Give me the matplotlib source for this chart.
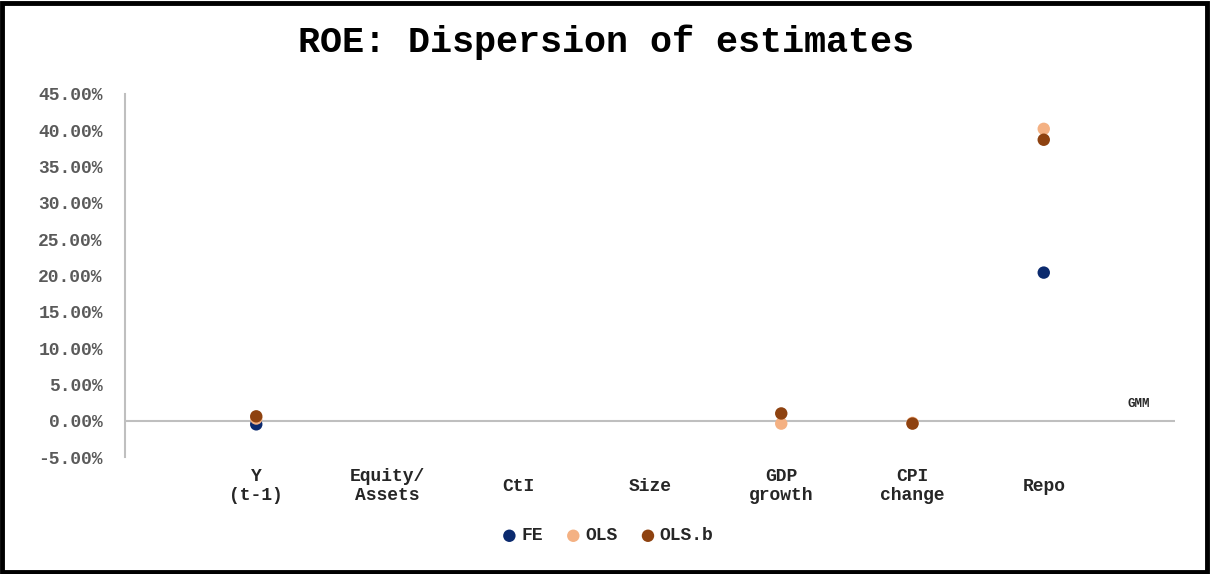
import matplotlib
matplotlib.use("Agg")
import matplotlib.pyplot as plt
import numpy as np
from matplotlib.patches import Rectangle
import matplotlib.transforms as mtransforms

categories = ["Y\n(t-1)", "Equity/\nAssets", "CtI", "Size", "GDP\ngrowth", "CPI\nchange", "Repo"]
fe = [-0.005, np.nan, np.nan, np.nan, np.nan, np.nan, 0.204]
ols = [0.003, np.nan, np.nan, np.nan, -0.004, -0.003, 0.402]
ols_b = [0.006, np.nan, np.nan, np.nan, 0.010, -0.004, 0.387]
yticks = [-0.05, 0.0, 0.05, 0.10, 0.15, 0.20, 0.25, 0.30, 0.35, 0.40, 0.45]

MONO = ["Liberation Mono", "DejaVu Sans Mono"]
c_fe = "#0b2a6e"
c_ols = "#f4b183"
c_olsb = "#8e4210"

fig = plt.figure(figsize=(12.12, 5.74), dpi=100)
ax = fig.add_axes([125/1212, 1-457/574, 1050/1212, 363/574])

x = np.arange(1, len(categories) + 1)
ax.scatter(x, fe, s=80, color=c_fe, zorder=3, label="FE", edgecolors="none")
ax.scatter(x, ols, s=80, color=c_ols, zorder=3, label="OLS", edgecolors="none")
ax.scatter(x, ols_b, s=80, color=c_olsb, zorder=4, label="OLS.b", edgecolors="none")

ax.set_xlim(0, 8)
ax.set_ylim(-0.05, 0.45)
ax.axhline(0, color="#bfbfbf", lw=1.5, zorder=1)
for s in ["top", "right", "bottom"]:
    ax.spines[s].set_visible(False)
ax.spines["left"].set_color("#bfbfbf")
ax.spines["left"].set_linewidth(1.5)

ax.set_yticks(yticks)
ax.set_yticklabels([f"{v*100:.2f}%" for v in yticks], fontfamily=MONO,
                   fontsize=13, fontweight="bold", color="#5a5a5a")
ax.tick_params(axis="y", length=0, pad=16)
ax.set_xticks([])

trans = mtransforms.blended_transform_factory(ax.transData, ax.transAxes)
for xi, lab in zip(x, categories):
    ax.text(xi, -0.08, lab, transform=trans, ha="center", va="center",
            fontfamily=MONO, fontsize=13, fontweight="bold", color="#262626",
            linespacing=1.1)

ax.text(7.72, 0.023, "GMM", ha="center", va="center", fontfamily=MONO,
        fontsize=9, fontweight="bold", color="#262626")

fig.text(0.5, 1-42/574, "ROE: Dispersion of estimates", ha="center", va="center",
         fontfamily=MONO, fontsize=26.5, fontweight="bold", color="black")

leg = fig.legend(loc="center", bbox_to_anchor=(0.5, 1-536/574), ncol=3, frameon=False,
                 prop={"family": MONO, "size": 13, "weight": "bold"},
                 handletextpad=0.05, columnspacing=1.1, markerscale=1.0,
                 handlelength=1.2, scatterpoints=1)
for t in leg.get_texts():
    t.set_color("#262626")

fig.patches.append(Rectangle((0.002, 0.003), 0.994, 0.992, transform=fig.transFigure,
                             fill=False, edgecolor="black", linewidth=3.5))

fig.savefig("out.png", dpi=100, facecolor="white")
